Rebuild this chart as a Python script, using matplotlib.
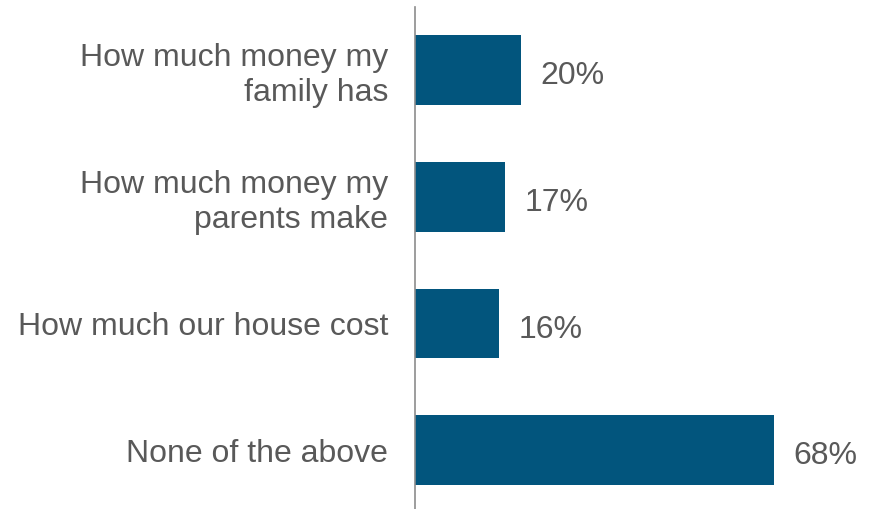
import matplotlib
matplotlib.use('Agg')
import matplotlib.pyplot as plt

categories = ['How much money my\nfamily has',
              'How much money my\nparents make',
              'How much our house cost',
              'None of the above']
values = [20, 17, 16, 68]

BAR = '#02557d'
TEXT = '#595959'

plt.rcParams['font.family'] = ['Liberation Sans', 'DejaVu Sans']

fig = plt.figure(figsize=(8.69, 5.09), dpi=100)
ax = fig.add_axes([415 / 869, 0, 1 - 415 / 869, 1 - 7 / 509])

pos = list(range(len(values)))
ax.barh(pos, values, height=0.55, color=BAR)
ax.set_ylim(3.465, -0.497)
ax.set_xlim(0, 86)

# value labels just right of each bar, nudged a little below centre
for y, v in zip(pos, values):
    ax.annotate(f'{v}%', (v, y), xytext=(14, -2), textcoords='offset points',
                ha='left', va='center_baseline', fontsize=23, color=TEXT)

ax.set_yticks(pos)
ax.set_yticklabels(categories, fontsize=23, color=TEXT, ha='right')
ax.tick_params(axis='y', length=0, pad=19.5)
ax.set_xticks([])

for s in ('top', 'right', 'bottom'):
    ax.spines[s].set_visible(False)
ax.spines['left'].set_color('#8c8c8c')
ax.spines['left'].set_linewidth(1.2)

fig.savefig('out.png', dpi=100)
